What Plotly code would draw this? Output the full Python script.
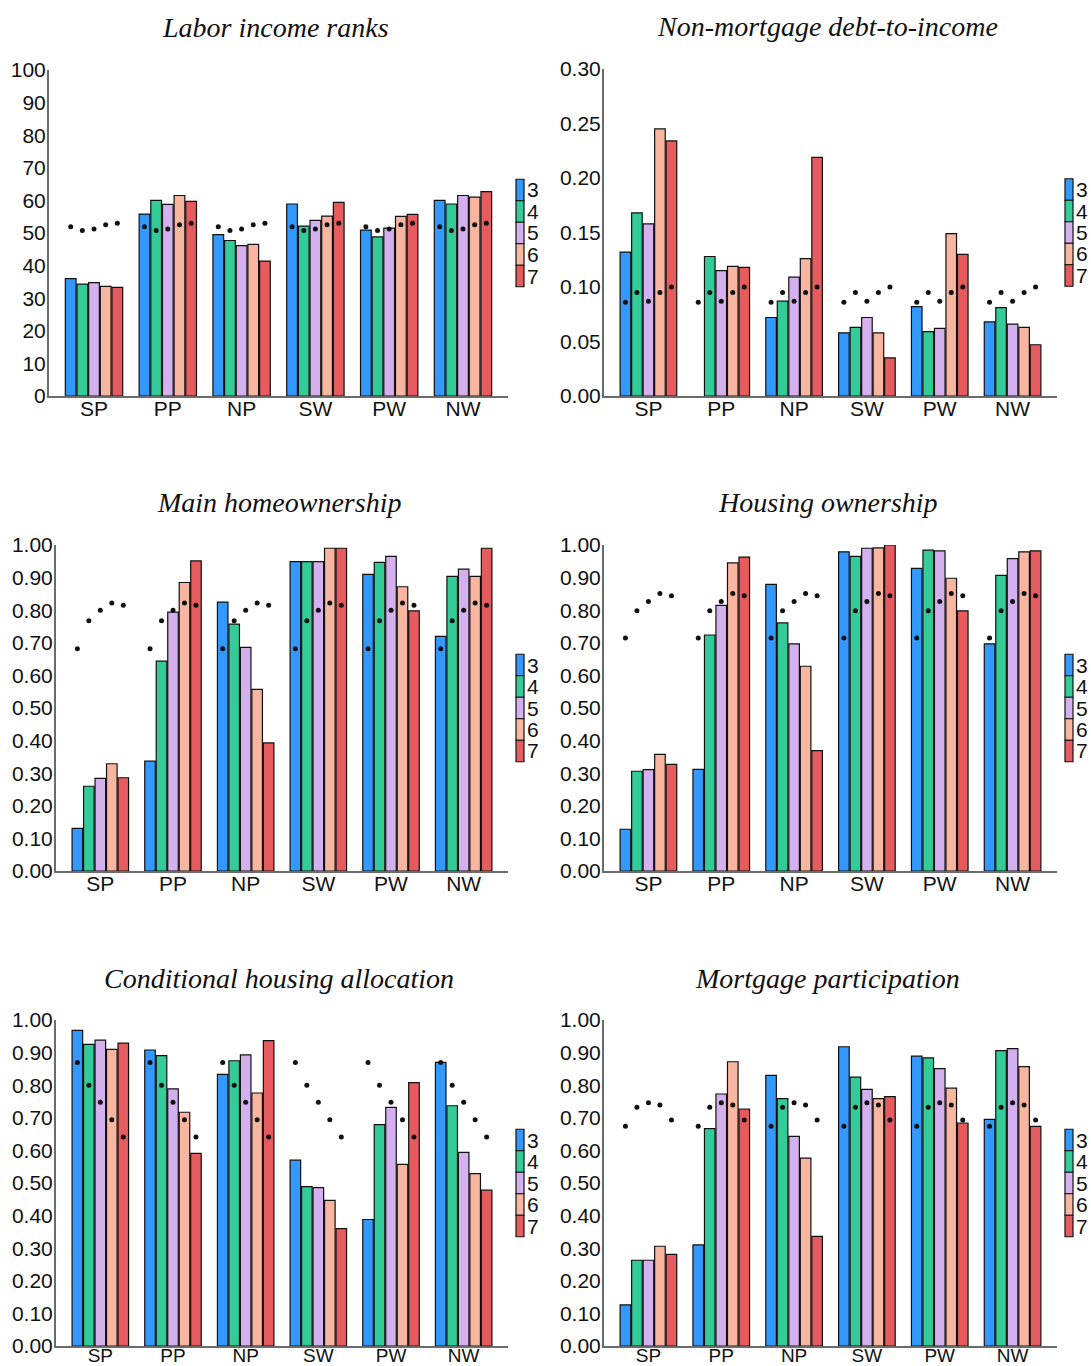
import plotly.graph_objects as go

W, H = 1091, 1366

categories = ["SP", "PP", "NP", "SW", "PW", "NW"]
groups = ["3", "4", "5", "6", "7"]
colors = ["#3399FF", "#33CC99", "#D4B0EE", "#F8B6A0", "#E55B5E"]

# one row per group (3..7), one column per category
labor_income_ranks = [
    [36.0, 55.8, 49.5, 58.9, 50.9, 60.0],
    [34.3, 60.0, 47.7, 52.1, 48.8, 58.9],
    [34.8, 58.8, 46.1, 53.9, 51.5, 61.5],
    [33.6, 61.5, 46.5, 55.2, 55.1, 61.0],
    [33.3, 59.7, 41.4, 59.4, 55.7, 62.7],
]
labor_income_ref = [51.9, 50.8, 51.2, 52.5, 53.0]

debt_to_income = [
    [0.132, None, 0.072, 0.058, 0.082, 0.068],
    [0.168, 0.128, 0.087, 0.063, 0.059, 0.081],
    [0.158, 0.115, 0.109, 0.072, 0.062, 0.066],
    [0.245, 0.119, 0.126, 0.058, 0.149, 0.063],
    [0.234, 0.118, 0.219, 0.035, 0.130, 0.047],
]
debt_to_income_ref = [0.086, 0.095, 0.087, 0.095, 0.100]

main_homeownership = [
    [0.131, 0.337, 0.825, 0.949, 0.910, 0.720],
    [0.260, 0.644, 0.757, 0.949, 0.947, 0.904],
    [0.284, 0.794, 0.686, 0.949, 0.965, 0.926],
    [0.329, 0.885, 0.557, 0.990, 0.872, 0.904],
    [0.286, 0.951, 0.393, 0.990, 0.798, 0.990],
]
main_homeownership_ref = [0.682, 0.768, 0.800, 0.822, 0.815]

housing_ownership = [
    [0.128, 0.312, 0.879, 0.979, 0.928, 0.697],
    [0.306, 0.724, 0.761, 0.965, 0.984, 0.907],
    [0.311, 0.815, 0.697, 0.990, 0.982, 0.958],
    [0.358, 0.945, 0.628, 0.991, 0.898, 0.979],
    [0.327, 0.963, 0.369, 1.000, 0.798, 0.982],
]
housing_ownership_ref = [0.715, 0.798, 0.827, 0.851, 0.844]

conditional_allocation = [
    [0.968, 0.908, 0.833, 0.570, 0.388, 0.870],
    [0.925, 0.891, 0.875, 0.489, 0.679, 0.737],
    [0.938, 0.789, 0.893, 0.486, 0.732, 0.594],
    [0.910, 0.717, 0.776, 0.447, 0.557, 0.529],
    [0.929, 0.591, 0.937, 0.360, 0.808, 0.478],
]
conditional_allocation_ref = [0.870, 0.800, 0.748, 0.694, 0.641]

mortgage_participation = [
    [0.126, 0.310, 0.830, 0.918, 0.889, 0.695],
    [0.263, 0.667, 0.759, 0.825, 0.884, 0.906],
    [0.263, 0.773, 0.643, 0.787, 0.851, 0.912],
    [0.306, 0.872, 0.576, 0.759, 0.791, 0.857],
    [0.281, 0.727, 0.336, 0.765, 0.684, 0.674],
]
mortgage_participation_ref = [0.674, 0.732, 0.746, 0.739, 0.693]

# panel boxes in pixels: left, right, top, bottom
panels = [
    dict(title="Labor income ranks", values=labor_income_ranks, ref=labor_income_ref,
         ymax=100, dtick=10, fmt="d", box=(49, 508, 70, 396)),
    dict(title="Non-mortgage debt-to-income", values=debt_to_income, ref=debt_to_income_ref,
         ymax=0.30, dtick=0.05, fmt=".2f", box=(604, 1057, 69, 396)),
    dict(title="Main homeownership", values=main_homeownership, ref=main_homeownership_ref,
         ymax=1.0, dtick=0.1, fmt=".2f", box=(56, 508, 545, 871)),
    dict(title="Housing ownership", values=housing_ownership, ref=housing_ownership_ref,
         ymax=1.0, dtick=0.1, fmt=".2f", box=(604, 1057, 545, 871)),
    dict(title="Conditional housing allocation", values=conditional_allocation,
         ref=conditional_allocation_ref, ymax=1.0, dtick=0.1, fmt=".2f", box=(56, 508, 1020, 1346)),
    dict(title="Mortgage participation", values=mortgage_participation,
         ref=mortgage_participation_ref, ymax=1.0, dtick=0.1, fmt=".2f", box=(604, 1057, 1020, 1346)),
]

SANS = "Liberation Sans, Arial, sans-serif"
SERIF = "Liberation Serif, Times New Roman, serif"
AXIS_GREY = "#6b6b6b"
INK = "#111111"

fig = go.Figure()
layout_axes = {}
shapes = []
annotations = []


def px_x(p):
    return p / W


def px_y(p):
    return 1 - p / H


for i, p in enumerate(panels, start=1):
    xref = "x" if i == 1 else f"x{i}"
    yref = "y" if i == 1 else f"y{i}"
    left, right, top, bottom = p["box"]

    for g, vals, col in zip(groups, p["values"], colors):
        fig.add_trace(go.Bar(
            x=categories, y=vals, name=g, offsetgroup=g,
            marker=dict(color=col, line=dict(color=INK, width=1.2)),
            xaxis=xref, yaxis=yref, showlegend=False,
        ))
    for g, r in zip(groups, p["ref"]):
        fig.add_trace(go.Scatter(
            x=categories, y=[r] * len(categories), mode="markers", offsetgroup=g,
            marker=dict(color=INK, size=5), xaxis=xref, yaxis=yref,
            showlegend=False, hoverinfo="skip",
        ))

    n_ticks = int(round(p["ymax"] / p["dtick"]))
    tickvals = [k * p["dtick"] for k in range(n_ticks + 1)]
    if p["fmt"] == "d":
        ticktext = [f"{v:.0f}" for v in tickvals]
    else:
        ticktext = [f"{v:.2f}" for v in tickvals]

    # the bottom row sits against the page edge, so its category labels are a touch tighter
    last_row = bottom > H - 40
    layout_axes["xaxis" if i == 1 else f"xaxis{i}"] = dict(
        domain=[px_x(left), px_x(right)], anchor=yref, automargin=False,
        type="category", range=[-0.61, 5.61],
        showline=True, linecolor=AXIS_GREY, linewidth=2,
        showgrid=False, zeroline=False, ticks="",
        tickfont=dict(family=SANS, size=19 if last_row else 21, color=INK),
        ticklabelstandoff=-9 if last_row else -7,
    )
    layout_axes["yaxis" if i == 1 else f"yaxis{i}"] = dict(
        domain=[px_y(bottom), px_y(top)], anchor=xref, automargin=False,
        range=[0, p["ymax"]], tickvals=tickvals, ticktext=ticktext,
        showline=True, linecolor=AXIS_GREY, linewidth=2,
        showgrid=False, zeroline=False, ticks="",
        tickfont=dict(family=SANS, size=21, color=INK),
        ticklabelstandoff=-3,
    )

    # panel title
    annotations.append(dict(
        text=p["title"], x=px_x((left + right) / 2 - 3), y=px_y(top - 42),
        xref="paper", yref="paper", xanchor="center", yanchor="middle",
        showarrow=False, font=dict(family=SERIF, size=28, color=INK, style="italic"),
    ))

    # group key beside the panel
    entry_h = 21.5
    key_top = (top + bottom) / 2 - entry_h * len(groups) / 2
    for k, (g, col) in enumerate(zip(groups, colors)):
        y0 = key_top + k * entry_h
        shapes.append(dict(
            type="rect", xref="paper", yref="paper",
            x0=px_x(right + 8), x1=px_x(right + 16),
            y0=px_y(y0 + entry_h), y1=px_y(y0),
            fillcolor=col, line=dict(color=INK, width=1.2),
        ))
        annotations.append(dict(
            text=g, x=px_x(right + 17), y=px_y(y0 + entry_h / 2),
            xref="paper", yref="paper", xanchor="left", yanchor="middle",
            showarrow=False, font=dict(family=SANS, size=21, color=INK),
        ))

fig.update_layout(
    width=W, height=H,
    margin=dict(l=0, r=0, t=0, b=0, autoexpand=False),
    paper_bgcolor="white", plot_bgcolor="white",
    barmode="group", bargap=0.21, bargroupgap=0.08,
    scattermode="group", scattergap=0.21,
    showlegend=False,
    shapes=shapes, annotations=annotations,
    **layout_axes,
)

fig.write_html("out.html")
